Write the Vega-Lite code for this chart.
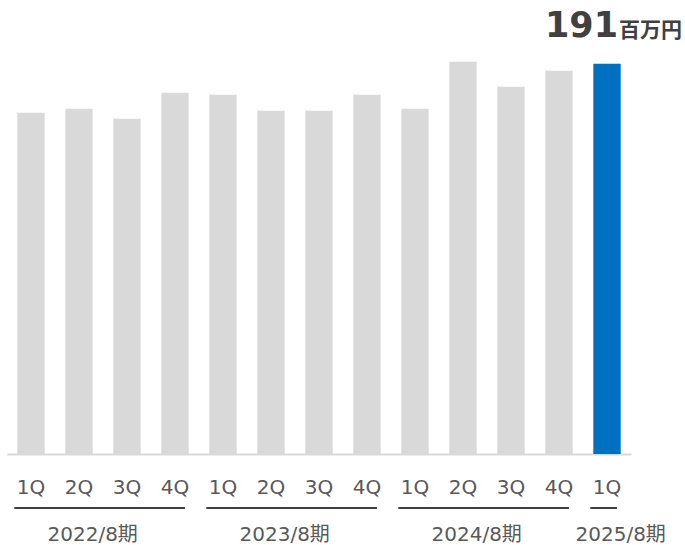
{
  "$schema": "https://vega.github.io/schema/vega-lite/v6.json",
  "padding": {"left": 7, "top": 0, "right": 0, "bottom": 0},
  "spacing": 0,
  "config": {
    "view": {"stroke": null},
    "font": "DejaVu Sans, Noto Sans CJK JP"
  },
  "datasets": {
    "quarters": [
      {"id": "2022-1Q", "fy": "2022/8期", "value": 167.0, "series": "past"},
      {"id": "2022-2Q", "fy": "2022/8期", "value": 169.0, "series": "past"},
      {"id": "2022-3Q", "fy": "2022/8期", "value": 164.1, "series": "past"},
      {"id": "2022-4Q", "fy": "2022/8期", "value": 176.8, "series": "past"},
      {"id": "2023-1Q", "fy": "2023/8期", "value": 175.8, "series": "past"},
      {"id": "2023-2Q", "fy": "2023/8期", "value": 168.0, "series": "past"},
      {"id": "2023-3Q", "fy": "2023/8期", "value": 168.0, "series": "past"},
      {"id": "2023-4Q", "fy": "2023/8期", "value": 175.8, "series": "past"},
      {"id": "2024-1Q", "fy": "2024/8期", "value": 169.0, "series": "past"},
      {"id": "2024-2Q", "fy": "2024/8期", "value": 192.0, "series": "past"},
      {"id": "2024-3Q", "fy": "2024/8期", "value": 179.8, "series": "past"},
      {"id": "2024-4Q", "fy": "2024/8期", "value": 187.6, "series": "past"},
      {"id": "2025-1Q", "fy": "2025/8期", "value": 191, "series": "current"}
    ],
    "years": [
      {"fy": "2022/8期", "first": "2022-1Q", "last": "2022-4Q", "anchor": "2022-2Q"},
      {"fy": "2023/8期", "first": "2023-1Q", "last": "2023-4Q", "anchor": "2023-2Q"},
      {"fy": "2024/8期", "first": "2024-1Q", "last": "2024-4Q", "anchor": "2024-2Q"},
      {"fy": "2025/8期", "first": "2025-1Q", "last": "2025-1Q", "anchor": "2025-1Q"}
    ]
  },
  "vconcat": [
    {
      "width": 624,
      "height": 454,
      "data": {"name": "quarters"},
      "encoding": {
        "x": {
          "field": "id",
          "type": "nominal",
          "scale": {"paddingInner": 0.43, "paddingOuter": 0.215},
          "axis": {
            "title": null,
            "labelExpr": "slice(datum.value, 5)",
            "labelAngle": 0,
            "labelFontSize": 20,
            "labelColor": "#595959",
            "labelPadding": 23,
            "ticks": false,
            "domainColor": "#d9d9d9",
            "domainWidth": 2
          }
        }
      },
      "layer": [
        {
          "mark": {"type": "bar"},
          "encoding": {
            "y": {
              "field": "value",
              "type": "quantitative",
              "scale": {"domain": [0, 222.2], "nice": false},
              "axis": null
            },
            "color": {
              "field": "series",
              "type": "nominal",
              "scale": {"domain": ["past", "current"], "range": ["#d9d9d9", "#0070c0"]},
              "legend": null
            }
          }
        },
        {
          "transform": [{"filter": "datum.series === 'current'"}],
          "mark": {
            "type": "text",
            "align": "right",
            "baseline": "alphabetic",
            "dx": 11,
            "dy": -27,
            "fontSize": 35,
            "fontWeight": "bold",
            "font": "DejaVu Sans",
            "color": "#404040"
          },
          "encoding": {
            "y": {"field": "value", "type": "quantitative"},
            "text": {"field": "value", "type": "quantitative", "format": "d"}
          }
        },
        {
          "transform": [{"filter": "datum.series === 'current'"}],
          "mark": {
            "type": "text",
            "align": "left",
            "baseline": "alphabetic",
            "dx": 12,
            "dy": -27,
            "fontSize": 21,
            "fontWeight": "bold",
            "font": "Noto Sans CJK JP",
            "color": "#404040"
          },
          "encoding": {
            "y": {"field": "value", "type": "quantitative"},
            "text": {"value": "百万円"}
          }
        }
      ]
    },
    {
      "width": 624,
      "height": 72,
      "data": {"name": "years"},
      "layer": [
        {
          "mark": {"type": "rule", "color": "#000000", "strokeWidth": 1.5, "yOffset": -25, "xOffset": -3, "x2Offset": 10},
          "encoding": {
            "x": {"field": "first", "type": "nominal", "bandPosition": 0, "axis": null},
            "x2": {"field": "last"}
          }
        },
        {
          "mark": {
            "type": "text",
            "fontSize": 20,
            "color": "#595959",
            "baseline": "middle",
            "dy": 2
          },
          "encoding": {
            "x": {"field": "anchor", "type": "nominal", "bandPosition": 1, "axis": null},
            "text": {"field": "fy", "type": "nominal"}
          }
        }
      ]
    }
  ],
  "resolve": {"scale": {"x": "shared"}}
}
